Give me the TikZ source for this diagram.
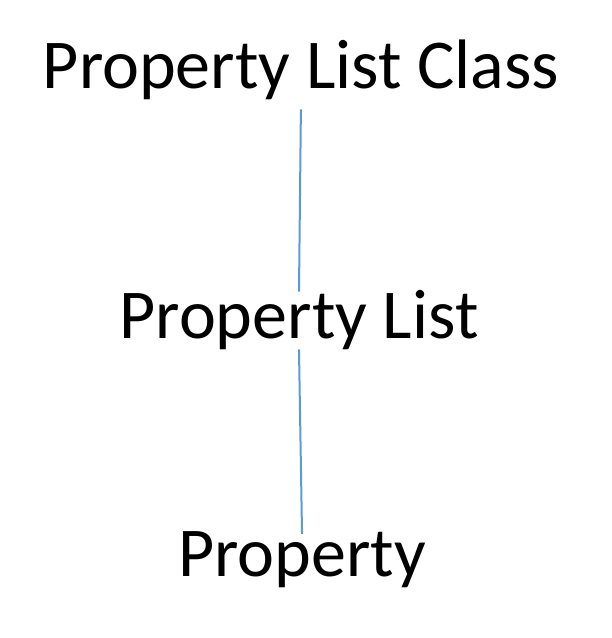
\documentclass[tikz,border=0pt]{standalone}
\usepackage{fontspec}
\setmainfont{Carlito}
\definecolor{linkblue}{HTML}{5B9BD5}
\begin{document}
\begin{tikzpicture}[x=1pt,y=1pt,
  label text/.style={inner sep=0pt, anchor=base, font=\fontsize{70}{84}\selectfont},
  link/.style={draw=linkblue, line width=2pt}]
  \useasboundingbox (0,0) rectangle (612,638);
  \node[label text] (cls)  at (301,549) {Property List Class};
  \node[label text] (list) at (299,299) {Property List};
  \node[label text] (prop) at (302,61)  {Property};
  \draw[link, shorten <=9pt, shorten >=-1pt] (cls.south) -- (list.north);
  \draw[link, shorten <=-1pt, shorten >=-2pt] (list.south) -- (prop.north);
\end{tikzpicture}
\end{document}
